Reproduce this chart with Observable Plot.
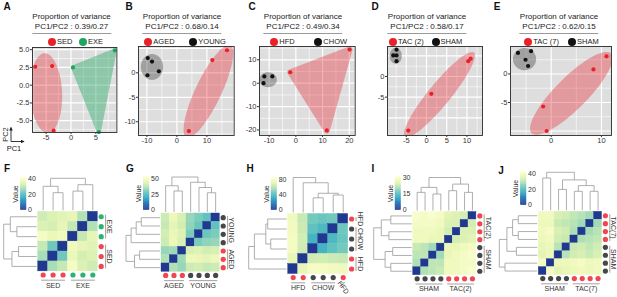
<!DOCTYPE html>
<html>
<head>
<meta charset="utf-8">
<script src="https://cdn.jsdelivr.net/npm/d3@7"></script>
<script src="https://cdn.jsdelivr.net/npm/@observablehq/plot@0.6"></script>
<style>
  html, body { margin: 0; padding: 0; background: #fff; }
  #fig { position: relative; width: 617px; height: 297px; overflow: hidden; font-family: "Liberation Sans", Arial, Helvetica, sans-serif; color: #222; }
  #fig svg { position: absolute; overflow: visible; }
  .letter { position: absolute; font-weight: bold; font-size: 10px; line-height: 10px; transform: translate(-50%, -50%); color: #111; }
  .ttl { position: absolute; transform: translateX(-50%); text-align: center; font-size: 8px; line-height: 10.5px; white-space: nowrap; color: #222; }
  .ttl .u { display: inline-block; border-bottom: 1px solid #9a9a9a; padding: 0 3px; }
  .lg-dot { position: absolute; width: 8px; height: 8px; border-radius: 50%; }
  .lg-txt { position: absolute; font-size: 7.5px; line-height: 10px; white-space: nowrap; color: #222; }
</style>
</head>
<body>
<div id="fig"></div>
<script>
// ================= PCA data =================
const A_groups = ["SED", "EXE"];
const A_variance = ["0.39", "0.27"];
const A_SED_x = [-7.2, -3.8, -3.5];
const A_SED_y = [2.6, 2.7, -6.4];
const A_EXE_x = [0.4, 8.8, 5.6];
const A_EXE_y = [2.5, 4.9, -6.6];
const A_SED_ellipse = [-5.0, -1.1, -0.4, 5.6, 3.2, 0.2]; // cx, cy, major vec, minor vec
const A_xticks = [-5, 0, 5];
const A_yticks = [-5, -2.5, 0, 2.5, 5];

const B_groups = ["AGED", "YOUNG"];
const B_variance = ["0.68", "0.14"];
const B_AGED_x = [16.7, 11.8, 4.0];
const B_AGED_y = [4.6, 2.6, -11.9];
const B_YOUNG_x = [-9.7, -8.3, -6.0, -9.8];
const B_YOUNG_y = [3.0, 2.3, 0.3, -0.5];
const B_AGED_ellipse = [10.5, -3.8, 7.3, 9.4, 3.9, -1.1];
const B_YOUNG_ellipse = [-8.3, 1.2, 3.7, 0, 0, 2.65];
const B_xticks = [-10, 0, 10];
const B_yticks = [-10, -5, 0];

const C_groups = ["HFD", "CHOW"];
const C_variance = ["0.49", "0.34"];
const C_HFD_x = [-2.1, 20.1, 11.6];
const C_HFD_y = [4.7, 14.4, -20.2];
const C_CHOW_x = [-11.8, -8.8, -12.1];
const C_CHOW_y = [2.9, 2.9, 0.0];
const C_CHOW_ellipse = [-10.4, 1.5, 3.3, 0, 0, 3.2];
const C_xticks = [-10, 0, 10, 20];
const C_yticks = [-20, -10, 0, 10];

const D_groups = ["TAC (2)", "SHAM"];
const D_variance = ["0.58", "0.17"];
const D_TAC_x = [10.3, 10.9, 1.2, -4.5];
const D_TAC_y = [3.7, 4.3, -4.2, -13.1];
const D_SHAM_x = [-7.4, -7.4, -8.2, -7.4];
const D_SHAM_y = [6.5, 5.1, 5.1, 3.7];
const D_TAC_ellipse = [3.2, -4.4, 8.5, 10.2, 2.1, -1.7];
const D_SHAM_ellipse = [-7.6, 5.0, 1.5, 0, 0, 1.94];
const D_xticks = [-5, 0, 5, 10];
const D_yticks = [-5, 0];

const E_groups = ["TAC (7)", "SHAM"];
const E_variance = ["0.62", "0.15"];
const E_TAC_x = [11.0, 8.4, -1.6, -0.9];
const E_TAC_y = [3.1, 0.8, -5.7, -10.0];
const E_SHAM_x = [-6.6, -4.0, -5.1, -4.6];
const E_SHAM_y = [3.7, 4.0, 2.5, 1.4];
const E_TAC_ellipse = [4.0, -3.4, 7.9, 7.0, 2.25, -1.97];
const E_SHAM_ellipse = [-5.3, 2.6, 2.3, 0, 0, 1.95];
const E_xticks = [0, 10];
const E_yticks = [-5, 0];

// ================= Heatmap data (sample distance matrices) =================
const F_cols = ["SED", "SED", "SED", "EXE", "EXE", "EXE"];
const F_dist = [
  [0, 27, 30, 38, 33, 31],
  [27, 0, 22, 36, 32, 33],
  [30, 22, 0, 37, 35, 34],
  [38, 36, 37, 0, 30, 35],
  [33, 32, 35, 30, 0, 28],
  [31, 33, 34, 35, 28, 0]];
const F_tree = [1.0, [0.75, 0, [0.55, 1, 2]], [0.8, [0.6, 3, 4], 5]];
const F_max = 41;
const F_legendTicks = [0, 20, 40];

const G_cols = ["AGED", "AGED", "AGED", "YOUNG", "YOUNG", "YOUNG", "YOUNG"];
const G_dist = [
  [0, 36, 33, 40, 41, 39, 40],
  [36, 0, 34, 47, 46, 45, 47],
  [33, 34, 0, 42, 43, 41, 42],
  [40, 47, 42, 0, 30, 32, 33],
  [41, 46, 43, 30, 0, 28, 30],
  [39, 45, 41, 32, 28, 0, 27],
  [40, 47, 42, 33, 30, 27, 0]];
const G_tree = [1.0, [0.75, 0, [0.6, 1, 2]], [0.85, 3, [0.7, 4, [0.55, 5, 6]]]];
const G_max = 53;
const G_legendTicks = [0, 25, 50];

const H_cols = ["HFD", "HFD", "CHOW", "CHOW", "CHOW", "HFD"];
const H_dist = [
  [0, 72, 78, 78, 77, 76],
  [72, 0, 64, 65, 63, 62],
  [78, 64, 0, 36, 42, 46],
  [78, 65, 36, 0, 38, 44],
  [77, 63, 42, 38, 0, 45],
  [76, 62, 46, 44, 45, 0]];
const H_tree = [1.0, 0, [0.85, 1, [0.55, [0.42, 2, 3], [0.5, 4, 5]]]];
const H_max = 84;
const H_legendTicks = [0, 40, 80];

const I_cols = ["SHAM", "SHAM", "SHAM", "SHAM", "TAC(2)", "TAC(2)", "TAC(2)", "TAC(2)"];
const I_dist = [
  [0, 21, 22, 23, 28, 28, 29, 30],
  [21, 0, 22, 22, 28, 28, 29, 29],
  [22, 22, 0, 20, 27, 28, 29, 30],
  [23, 22, 20, 0, 27, 27, 28, 29],
  [28, 28, 27, 27, 0, 24, 25, 26],
  [28, 28, 28, 27, 24, 0, 25, 25],
  [29, 29, 29, 28, 25, 25, 0, 24],
  [30, 29, 30, 29, 26, 25, 24, 0]];
const I_tree = [1.0, [0.7, [0.55, 0, 1], [0.5, 2, 3]], [0.8, [0.6, 4, 5], [0.55, 6, 7]]];
const I_max = 31;
const I_legendTicks = [0, 15, 30];

const J_cols = ["SHAM", "SHAM", "SHAM", "SHAM", "TAC(7)", "TAC(7)", "TAC(7)", "TAC(7)"];
const J_dist = [
  [0, 40, 36, 37, 38, 39, 38, 39],
  [40, 0, 38, 38, 39, 40, 38, 39],
  [36, 38, 0, 30, 33, 34, 32, 34],
  [37, 38, 30, 0, 32, 33, 31, 33],
  [38, 39, 33, 32, 0, 29, 30, 31],
  [39, 40, 34, 33, 29, 0, 28, 30],
  [38, 38, 32, 31, 30, 28, 0, 28],
  [39, 39, 34, 33, 31, 30, 28, 0]];
const J_tree = [1.0, [0.85, 0, 1], [0.8, [0.55, 2, 3], [0.65, [0.5, 4, 5], [0.5, 6, 7]]]];
const J_max = 43;
const J_legendTicks = [0, 20, 40];

// ================= styles & layout =================
const FONT = '"Liberation Sans", Arial, Helvetica, sans-serif';
const RED = "#E8202A", GREEN = "#1FA463", BLACK = "#111111";
const AN_RED = "#EF4650", AN_GREEN = "#2BB46F", AN_DARK = "#474747";
const groupColor = {SED: AN_RED, EXE: AN_GREEN, AGED: AN_RED, YOUNG: AN_DARK, HFD: AN_RED, CHOW: AN_DARK, "TAC(2)": AN_RED, "TAC(7)": AN_RED, SHAM: AN_DARK};
const heatInterp = t => d3.interpolateYlGnBu(0.87 - 0.86 * t);
const PANEL_BG = "#DEDEDE";

const fig = document.getElementById("fig");

function addLetter(txt, pos) {
  const d = document.createElement("div");
  d.className = "letter"; d.textContent = txt;
  d.style.left = pos[0] + "px"; d.style.top = pos[1] + "px";
  fig.appendChild(d);
}

function ellipsePoints(e) {
  const [cx, cy, ax, ay, bx, by] = e;
  return d3.range(0, 73).map(k => {
    const t = k / 72 * 2 * Math.PI;
    return {x: cx + Math.cos(t) * ax + Math.sin(t) * bx, y: cy + Math.cos(t) * ay + Math.sin(t) * by};
  });
}

function gridVals(ticks, dom) {
  const s = [...ticks].sort((a, b) => a - b);
  const step = s.length > 1 ? s[1] - s[0] : 5;
  const lo = Math.min(...dom), hi = Math.max(...dom);
  const major = [s[0] - step, ...s, s[s.length - 1] + step];
  const minor = [];
  for (let i = 0; i < major.length - 1; i++) minor.push((major[i] + major[i + 1]) / 2);
  const inside = v => v > lo + 0.01 && v < hi - 0.01;
  return {major: major.filter(inside), minor: minor.filter(inside)};
}

const hyphen = d => (d < 0 ? "-" : "") + Math.abs(d);

function pcaPanel(p, L) {
  const [fx0, fx1, fy0, fy1] = L.frame;
  const mL = 26, mR = 4, mT = 3, mB = 16;
  const width = fx1 - fx0 + mL + mR, height = fy1 - fy0 + mT + mB;
  const gx = gridVals(p.xticks, L.xdom), gy = gridVals(p.yticks, L.ydom);
  const marks = [
    Plot.rect([L], {x1: () => L.xdom[0], x2: () => L.xdom[1], y1: () => L.ydom[0], y2: () => L.ydom[1], fill: PANEL_BG}),
    Plot.ruleX(gx.minor, {x: d => d, stroke: "#ffffff", strokeWidth: 0.6}),
    Plot.ruleY(gy.minor, {y: d => d, stroke: "#ffffff", strokeWidth: 0.6}),
    Plot.ruleX(gx.major, {x: d => d, stroke: "#ffffff", strokeWidth: 1.2}),
    Plot.ruleY(gy.major, {y: d => d, stroke: "#ffffff", strokeWidth: 1.2})
  ];
  p.groups.forEach(g => {
    const pts = g.x.map((x, i) => ({x, y: g.y[i]}));
    if (g.ellipse) marks.push(Plot.line(ellipsePoints(g.ellipse), {x: "x", y: "y", fill: g.color, fillOpacity: g.alpha, stroke: "none", curve: "linear-closed", clip: true}));
    if (g.hull) marks.push(Plot.hull(pts, {x: "x", y: "y", fill: g.color, stroke: g.color, strokeWidth: g.hull, strokeLinejoin: "round", opacity: g.alpha, clip: true}));
  });
  p.groups.forEach(g => {
    const pts = g.x.map((x, i) => ({x, y: g.y[i]}));
    marks.push(Plot.dot(pts, {x: "x", y: "y", r: 2.1, fill: g.color, stroke: "none"}));
  });
  marks.push(
    Plot.frame({stroke: "#2b2b2b", strokeWidth: 0.9}),
    Plot.axisX(p.xticks, {tickSize: 2, tickPadding: 0.5, tickFormat: p.xfmt || hyphen, fontSize: 7.5, label: null}),
    Plot.axisY(p.yticks, {tickSize: 2, tickPadding: 1, tickFormat: p.yfmt || hyphen, fontSize: 7.5, label: null})
  );
  const svg = Plot.plot({
    width, height, marginLeft: mL, marginRight: mR, marginTop: mT, marginBottom: mB,
    x: {domain: L.xdom, label: null},
    y: {domain: L.ydom, label: null},
    style: {fontFamily: FONT, fontSize: "7.5px", color: "#333", background: "transparent", overflow: "visible"},
    marks
  });
  svg.style.left = (fx0 - mL) + "px";
  svg.style.top = (fy0 - mT) + "px";
  fig.appendChild(svg);

  const t = document.createElement("div");
  t.className = "ttl";
  t.style.left = L.title + "px"; t.style.top = "11.5px";
  t.innerHTML = `<div>Proportion of variance</div><div class="u">PC1/PC2 : ${p.variance[0]}/${p.variance[1]}</div>`;
  fig.appendChild(t);
  p.groups.forEach((g, k) => {
    const cx = L.legend[k];
    const dot = document.createElement("div");
    dot.className = "lg-dot"; dot.style.background = g.color;
    dot.style.left = (cx - 4) + "px"; dot.style.top = (41.5 - 4) + "px";
    const tx = document.createElement("div");
    tx.className = "lg-txt"; tx.textContent = g.name;
    tx.style.left = (cx + 5) + "px"; tx.style.top = (41.5 - 5) + "px";
    fig.appendChild(dot); fig.appendChild(tx);
  });
  addLetter(p.id, L.letter);
}

function dendroSegs(tree) {
  const segs = [];
  (function walk(node) {
    if (typeof node === "number") return {a: node, b: 0};
    const [h, l, r] = node;
    const A = walk(l), B = walk(r);
    segs.push({a1: A.a, a2: A.a, b1: A.b, b2: h});
    segs.push({a1: B.a, a2: B.a, b1: B.b, b2: h});
    segs.push({a1: A.a, a2: B.a, b1: h, b2: h});
    return {a: (A.a + B.a) / 2, b: h};
  })(tree);
  return segs;
}

function runs(arr) {
  const out = [];
  arr.forEach((g, i) => {
    const last = out[out.length - 1];
    if (last && last.label === g) last.to = i; else out.push({label: g, from: i, to: i});
  });
  return out;
}

function heatPanel(h, L) {
  const n = h.cols.length, c = L.cell;
  const [sx, sy, W, H] = L.box;
  const ux = px => (px - L.hx) / c - 0.5;
  const uy = px => (px - L.hy) / c - 0.5;
  const edge = n - 0.5;
  const cells = [];
  for (let r = 0; r < n; r++) for (let j = 0; j < n; j++) cells.push({r, j, v: h.dist[n - 1 - r][j]});

  const [bx, by, bw, bh] = L.bar;
  const nStep = 64;
  const legY = v => uy(by + bh - v / h.max * bh);
  const legRects = d3.range(nStep).map(k => {
    const v0 = k * h.max / nStep, v1 = (k + 1) * h.max / nStep;
    return {v: (v0 + v1) / 2, y1: legY(v0), y2: legY(v1)};
  });

  const segs = dendroSegs(h.tree);
  const hmax = h.tree[0];
  const topY = b => -0.5 - (L.gap + b / hmax * L.dTop) / c;
  const leftX = b => -0.5 - (L.gap + b / hmax * L.dLeft) / c;

  const rowLabels = h.cols.slice().reverse();
  const colRuns = runs(h.cols), rowRuns = runs(rowLabels);
  const colDots = h.cols.map((g, j) => ({g, j}));
  const rowDots = rowLabels.map((g, r) => ({g, r}));
  const groupsUsed = [...new Set(h.cols)];

  const txt = {fill: "#333", fontSize: 7};
  const marks = [
    Plot.rect(cells, {x1: d => d.j - 0.5, x2: d => d.j + 0.5, y1: d => d.r - 0.5, y2: d => d.r + 0.5, fill: "v", stroke: "v", strokeWidth: 0.4}),
    Plot.rect(legRects, {x1: () => ux(bx), x2: () => ux(bx + bw), y1: "y1", y2: "y2", fill: "v", stroke: "v", strokeWidth: 0.3}),
    Plot.text(h.legendTicks, {x: () => ux(bx + bw + 1.5), y: v => legY(v), text: v => String(v), textAnchor: "start", fill: "#333", fontSize: 7}),
    Plot.text(["Value"], {x: () => ux(bx - 5), y: () => uy(by + bh / 2), text: d => d, rotate: -90, fill: "#333", fontSize: 7}),
    Plot.link(segs, {x1: "a1", x2: "a2", y1: s => topY(s.b1), y2: s => topY(s.b2), stroke: "#9a9a9a", strokeWidth: 0.8}),
    Plot.link(segs, {x1: s => leftX(s.b1), x2: s => leftX(s.b2), y1: s => n - 1 - s.a1, y2: s => n - 1 - s.a2, stroke: "#9a9a9a", strokeWidth: 0.8})
  ];
  groupsUsed.forEach(g => {
    marks.push(
      Plot.dot(colDots.filter(d => d.g === g), {x: "j", y: () => edge + L.dotB / c, r: 2.6, fill: groupColor[g], stroke: "none"}),
      Plot.dot(rowDots.filter(d => d.g === g), {x: () => edge + L.dotR / c, y: "r", r: 2.6, fill: groupColor[g], stroke: "none"})
    );
  });
  marks.push(
    Plot.link(colRuns, {x1: g => g.from - 0.5 + 0.3, x2: g => g.to + 0.5 - 0.3, y1: () => edge + L.lineB / c, y2: () => edge + L.lineB / c, stroke: "#8a8a8a", strokeWidth: 0.8}),
    Plot.link(rowRuns, {y1: g => g.from - 0.5 + 0.3, y2: g => g.to + 0.5 - 0.3, x1: () => edge + L.lineR / c, x2: () => edge + L.lineR / c, stroke: "#8a8a8a", strokeWidth: 0.8}),
    Plot.text(colRuns.filter(g => g.to > g.from), {x: g => (g.from + g.to) / 2, y: () => edge + L.textB / c, text: "label", ...txt}),
    Plot.text(colRuns.filter(g => g.to === g.from), {x: g => g.from, y: () => edge + (L.textB - 0.5) / c, text: "label", rotate: 55, ...txt}),
    Plot.text(rowRuns, {x: () => edge + L.textR / c, y: g => (g.from + g.to) / 2, text: "label", rotate: 90, ...txt})
  );
  const svg = Plot.plot({
    width: W, height: H, margin: 0,
    x: {domain: [ux(sx), ux(sx + W)], range: [0, W], axis: null},
    y: {domain: [uy(sy), uy(sy + H)], range: [0, H], axis: null},
    color: {type: "linear", domain: [0, h.max], interpolate: heatInterp},
    style: {fontFamily: FONT, fontSize: "7px", color: "#333", background: "transparent", overflow: "visible"},
    marks
  });
  svg.style.left = sx + "px";
  svg.style.top = sy + "px";
  fig.appendChild(svg);
  addLetter(h.id, L.letter);
}

// ---- PCA panels ----
const pcaPanels = [
  {id: "A", variance: A_variance, xticks: A_xticks, yticks: A_yticks, yfmt: d => d.toFixed(1), groups: [
    {name: A_groups[0], x: A_SED_x, y: A_SED_y, color: RED, ellipse: A_SED_ellipse, alpha: 0.35},
    {name: A_groups[1], x: A_EXE_x, y: A_EXE_y, color: GREEN, hull: 4, alpha: 0.42}]},
  {id: "B", variance: B_variance, xticks: B_xticks, yticks: B_yticks, groups: [
    {name: B_groups[0], x: B_AGED_x, y: B_AGED_y, color: RED, ellipse: B_AGED_ellipse, alpha: 0.35},
    {name: B_groups[1], x: B_YOUNG_x, y: B_YOUNG_y, color: BLACK, ellipse: B_YOUNG_ellipse, alpha: 0.3}]},
  {id: "C", variance: C_variance, xticks: C_xticks, yticks: C_yticks, groups: [
    {name: C_groups[0], x: C_HFD_x, y: C_HFD_y, color: RED, hull: 6, alpha: 0.35},
    {name: C_groups[1], x: C_CHOW_x, y: C_CHOW_y, color: BLACK, ellipse: C_CHOW_ellipse, alpha: 0.3}]},
  {id: "D", variance: D_variance, xticks: D_xticks, yticks: D_yticks, groups: [
    {name: D_groups[0], x: D_TAC_x, y: D_TAC_y, color: RED, ellipse: D_TAC_ellipse, alpha: 0.35},
    {name: D_groups[1], x: D_SHAM_x, y: D_SHAM_y, color: BLACK, ellipse: D_SHAM_ellipse, alpha: 0.3}]},
  {id: "E", variance: E_variance, xticks: E_xticks, yticks: E_yticks, groups: [
    {name: E_groups[0], x: E_TAC_x, y: E_TAC_y, color: RED, ellipse: E_TAC_ellipse, alpha: 0.35},
    {name: E_groups[1], x: E_SHAM_x, y: E_SHAM_y, color: BLACK, ellipse: E_SHAM_ellipse, alpha: 0.3}]}
];
const pcaLayout = {
  A: {frame: [32.3, 116.7, 47, 132], xdom: [-7.75, 9.23], ydom: [-6.66, 5.31], title: 71.5, legend: [52, 83], letter: [7, 7]},
  B: {frame: [138.3, 234, 46, 135], xdom: [-12.8, 19.1], ydom: [-12.8, 5.37], title: 182, legend: [148.3, 193.3], letter: [129, 7]},
  C: {frame: [259.3, 355, 46, 135], xdom: [-13.6, 22.2], ydom: [-22.35, 15.7], title: 303, legend: [274.3, 318.3], letter: [252, 7]},
  D: {frame: [387, 482, 46, 135], xdom: [-9.63, 13.83], ydom: [-14.29, 7.26], title: 427, legend: [393, 435.5], letter: [375, 7]},
  E: {frame: [510.3, 611.3, 46, 135], xdom: [-8.09, 11.99], ydom: [-10.79, 4.82], title: 559, legend: [528.3, 572], letter: [497, 7]}
};
pcaPanels.forEach(p => pcaPanel(p, pcaLayout[p.id]));

// ---- Heatmap panels ----
const heatPanels = [
  {id: "F", cols: F_cols, dist: F_dist, tree: F_tree, max: F_max, legendTicks: F_legendTicks},
  {id: "G", cols: G_cols, dist: G_dist, tree: G_tree, max: G_max, legendTicks: G_legendTicks},
  {id: "H", cols: H_cols, dist: H_dist, tree: H_tree, max: H_max, legendTicks: H_legendTicks},
  {id: "I", cols: I_cols, dist: I_dist, tree: I_tree, max: I_max, legendTicks: I_legendTicks},
  {id: "J", cols: J_cols, dist: J_dist, tree: J_tree, max: J_max, legendTicks: J_legendTicks}
];
const common = {gap: 1.5, dotR: 3.4, dotB: 3.6, lineR: 7.8, textR: 11.6, lineB: 8.8, textB: 14};
const heatLayout = {
  F: {...common, hx: 37.7, hy: 211.3, cell: 9.93, box: [0, 156, 124, 141], bar: [20.7, 177.3, 5.3, 32.4], dTop: 32, dLeft: 33, letter: [7, 169]},
  G: {...common, hx: 161, hy: 213, cell: 8.33, box: [124, 156, 124, 141], bar: [143.3, 176.3, 5.7, 33.4], dTop: 35, dLeft: 34, letter: [130, 169]},
  H: {...common, hx: 287.7, hy: 213.5, cell: 10, box: [245, 156, 127, 141], bar: [271, 177.3, 5.7, 32.4], dTop: 35, dLeft: 38, letter: [250, 169]},
  I: {...common, hx: 412.7, hy: 211.5, cell: 7.9, box: [369, 156, 124, 141], bar: [395, 176.3, 5.7, 33.4], dTop: 33, dLeft: 38, letter: [373, 169]},
  J: {...common, hx: 538.3, hy: 211.3, cell: 7.9, box: [493, 156, 124, 141], bar: [520.7, 171.3, 5.3, 33.4], dTop: 38, dLeft: 38, letter: [501, 171]}
};
heatPanels.forEach(h => heatPanel(h, heatLayout[h.id]));

// ---- PC1 / PC2 axis key (panel A) ----
const key = document.createElementNS("http://www.w3.org/2000/svg", "svg");
key.setAttribute("width", 32); key.setAttribute("height", 30);
key.style.left = "0px"; key.style.top = "122px";
key.innerHTML = `
  <defs><marker id="ah" viewBox="0 0 6 6" refX="5" refY="3" markerWidth="4" markerHeight="4" orient="auto">
    <path d="M0,0 L6,3 L0,6 z" fill="#222"/></marker></defs>
  <line x1="11" y1="19.5" x2="11" y2="5.5" stroke="#222" stroke-width="0.9" marker-end="url(#ah)"/>
  <line x1="11" y1="19.5" x2="24" y2="19.5" stroke="#222" stroke-width="0.9" marker-end="url(#ah)"/>
  <text transform="translate(7.5,12.5) rotate(-90)" text-anchor="middle" font-size="7.5" font-family='Liberation Sans, Arial' fill="#222">PC2</text>
  <text x="14" y="28.5" text-anchor="middle" font-size="7.5" font-family='Liberation Sans, Arial' fill="#222">PC1</text>`;
fig.appendChild(key);
</script>
</body>
</html>
